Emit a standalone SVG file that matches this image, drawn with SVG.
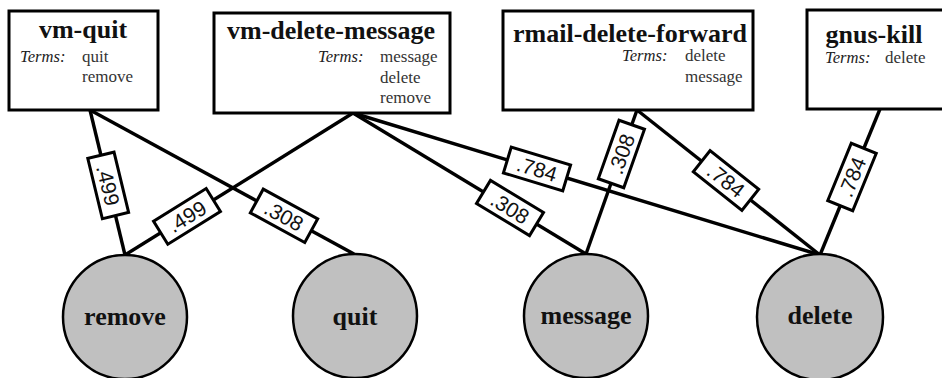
<svg xmlns="http://www.w3.org/2000/svg" width="942" height="378" viewBox="0 0 942 378">
<style>
.box{fill:#fff;stroke:#000;stroke-width:3}
.title{font-family:"Liberation Serif",serif;font-weight:bold;font-size:26px;fill:#111;text-anchor:middle}
.tl{font-family:"Liberation Serif",serif;font-style:italic;font-size:16.6px;fill:#222}
.tv{font-family:"Liberation Serif",serif;font-size:17px;fill:#333}
.edge{stroke:#000;stroke-width:3.4;fill:none}
.lbox{fill:#fff;stroke:#000;stroke-width:3}
.lbl text{font-family:"Liberation Sans",Arial,sans-serif;font-size:21px;fill:#111;text-anchor:middle}
.term circle{fill:#c0c0c0;stroke:#000;stroke-width:2.5}
.term text{font-family:"Liberation Serif",serif;font-weight:bold;font-size:26px;fill:#111;text-anchor:middle}
</style>
<defs>
<rect id="lb" class="lbox" x="-31" y="-13.5" width="62" height="27"/>
</defs>
<g id="connectors">
<line class="edge" x1="90" y1="110" x2="125" y2="255"/>
<line class="edge" x1="90" y1="110" x2="354" y2="254"/>
<line class="edge" x1="353" y1="113" x2="125" y2="255"/>
<line class="edge" x1="353" y1="113" x2="586" y2="254"/>
<line class="edge" x1="353" y1="113" x2="820" y2="255"/>
<line class="edge" x1="637" y1="110" x2="586" y2="254"/>
<line class="edge" x1="637" y1="110" x2="820" y2="255"/>
<line class="edge" x1="880" y1="109" x2="820" y2="255"/>
<g class="lbl" transform="translate(108.2,185.4) rotate(76.4)"><use href="#lb"/><text y="7.5">.499</text></g>
<g class="lbl" transform="translate(284,215.8) rotate(28.6)"><use href="#lb"/><text y="7.5">.308</text></g>
<g class="lbl" transform="translate(187,216.4) rotate(-31.9)"><use href="#lb"/><text y="7.5">.499</text></g>
<g class="lbl" transform="translate(510,208) rotate(31.2)"><use href="#lb"/><text y="7.5">.308</text></g>
<g class="lbl" transform="translate(537,169) rotate(16.9)"><use href="#lb"/><text y="7.5">.784</text></g>
<g class="lbl" transform="translate(621.4,154) rotate(-70.5)"><use href="#lb"/><text y="7.5">.308</text></g>
<g class="lbl" transform="translate(726,180.5) rotate(38.4)"><use href="#lb"/><text y="7.5">.784</text></g>
<g class="lbl" transform="translate(852,177) rotate(-67.7)"><use href="#lb"/><text y="7.5">.784</text></g>
</g>
<g id="vm-quit">
<rect class="box" x="9" y="11" width="149" height="99"/>
<text class="title" x="83" y="38">vm-quit</text>
<text class="tl" x="20" y="62">Terms:</text>
<text class="tv" x="82" y="62">quit</text>
<text class="tv" x="82" y="82">remove</text>
</g>
<g id="vm-delete-message">
<rect class="box" x="214" y="13" width="236" height="100"/>
<text class="title" x="331" y="39">vm-delete-message</text>
<text class="tl" x="318" y="62">Terms:</text>
<text class="tv" x="380" y="62">message</text>
<text class="tv" x="380" y="82.5">delete</text>
<text class="tv" x="380" y="103">remove</text>
</g>
<g id="rmail-delete-forward">
<rect class="box" x="503" y="11" width="250" height="99"/>
<text class="title" x="630" y="41.5">rmail-delete-forward</text>
<text class="tl" x="622" y="61">Terms:</text>
<text class="tv" x="685" y="61">delete</text>
<text class="tv" x="685" y="82">message</text>
</g>
<g id="gnus-kill">
<rect class="box" x="807" y="10" width="150" height="99"/>
<text class="title" x="874" y="42.5">gnus-kill</text>
<text class="tl" x="825" y="63">Terms:</text>
<text class="tv" x="885" y="63">delete</text>
</g>
<g id="remove" class="term"><circle cx="125" cy="317" r="62"/><text x="125" y="325">remove</text></g>
<g id="quit" class="term"><circle cx="355" cy="316" r="62"/><text x="355" y="325">quit</text></g>
<g id="message" class="term"><circle cx="586" cy="316" r="62"/><text x="586" y="324">message</text></g>
<g id="delete" class="term"><circle cx="820" cy="317" r="63"/><text x="820" y="324">delete</text></g>
</svg>
